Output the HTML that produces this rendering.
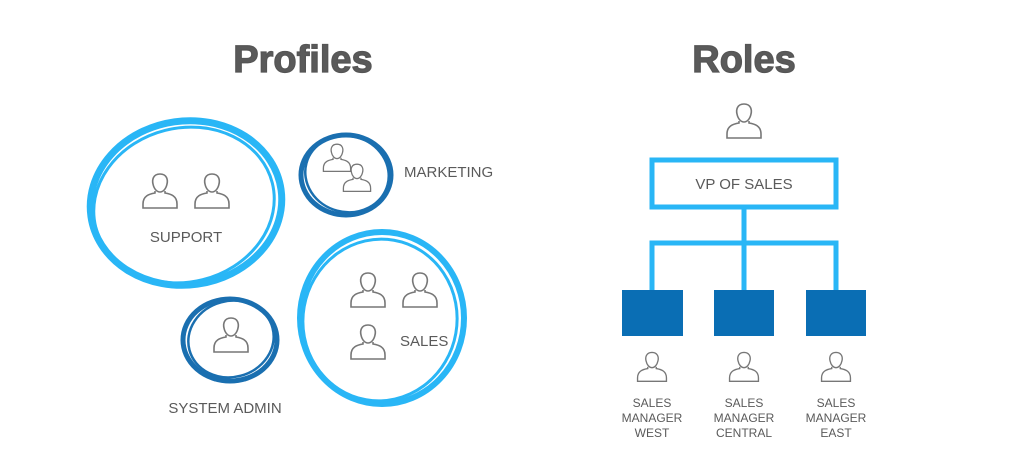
<!DOCTYPE html>
<html><head><meta charset="utf-8"><style>
html,body{margin:0;padding:0;background:#fff;}
svg{display:block;}
text{font-family:"Liberation Sans",sans-serif;fill:#5a5a5a;}
</style></head><body>
<svg width="1024" height="460" viewBox="0 0 1024 460" xmlns="http://www.w3.org/2000/svg">
<defs>
<g id="p" fill="none" stroke="#777" stroke-width="1.6">
<path d="M0,-16 C-7,-16 -8,-10 -7,-6 C-6,-1 -3,2 0,2 C3,2 6,-1 7,-6 C8,-10 7,-16 0,-16 Z"/>
<path d="M-5,1 L-5,3 C-11,4 -17,6 -17,14 L-17,18 L17,18 L17,14 C17,6 11,4 5,3 L5,1"/>
</g>
</defs>
<text x="303" y="72" font-size="38" font-weight="bold" text-anchor="middle" stroke="#555" stroke-width="1.2">Profiles</text>
<text x="744" y="72" font-size="38" font-weight="bold" text-anchor="middle" stroke="#555" stroke-width="1.2">Roles</text>

<g fill="none" stroke="#29b6f6">
<ellipse cx="186" cy="203" rx="96" ry="82" stroke-width="7" transform="rotate(-8 186 203)"/>
<ellipse cx="184" cy="205" rx="91" ry="77" stroke-width="3" transform="rotate(-14 184 205)"/>
</g>
<g fill="none" stroke="#29b6f6">
<ellipse cx="382" cy="318" rx="82" ry="86" stroke-width="6"/>
<ellipse cx="380" cy="320" rx="77" ry="81" stroke-width="3" transform="rotate(10 380 320)"/>
</g>
<g fill="none" stroke="#1a6fb0">
<ellipse cx="346" cy="175" rx="45" ry="40" stroke-width="5"/>
<ellipse cx="347" cy="174" rx="42" ry="38" stroke-width="2.5" transform="rotate(15 347 174)"/>
</g>
<g fill="none" stroke="#1a6fb0">
<ellipse cx="230" cy="340" rx="47" ry="41" stroke-width="5"/>
<ellipse cx="231" cy="339" rx="43" ry="38" stroke-width="2.5" transform="rotate(-15 231 339)"/>
</g>

<use href="#p" transform="translate(160,190)"/>
<use href="#p" transform="translate(212,190)"/>
<use href="#p" transform="translate(337,157) scale(0.8)"/>
<use href="#p" transform="translate(357,177) scale(0.8)"/>
<use href="#p" transform="translate(368,289)"/>
<use href="#p" transform="translate(420,289)"/>
<use href="#p" transform="translate(368,341)"/>
<use href="#p" transform="translate(231,334)"/>

<text x="186" y="242" font-size="15" text-anchor="middle">SUPPORT</text>
<text x="404" y="177" font-size="15">MARKETING</text>
<text x="400" y="346" font-size="15">SALES</text>
<text x="225" y="413" font-size="15" text-anchor="middle">SYSTEM ADMIN</text>

<use href="#p" transform="translate(744,120)"/>
<rect x="652" y="160" width="184" height="47" fill="none" stroke="#29b6f6" stroke-width="5"/>
<text x="744" y="189" font-size="15" text-anchor="middle">VP OF SALES</text>
<g stroke="#29b6f6" stroke-width="5" fill="none">
<line x1="744" y1="207" x2="744" y2="291"/>
<polyline points="652,291 652,243 836,243 836,291"/>
</g>
<rect x="622" y="290" width="61" height="46" fill="#0a6eb4"/>
<rect x="714" y="290" width="60" height="46" fill="#0a6eb4"/>
<rect x="806" y="290" width="60" height="46" fill="#0a6eb4"/>
<use href="#p" transform="translate(652,366) scale(0.85)"/>
<use href="#p" transform="translate(744,366) scale(0.85)"/>
<use href="#p" transform="translate(836,366) scale(0.85)"/>
<g font-size="12" text-anchor="middle">
<text x="652" y="407">SALES</text><text x="652" y="422">MANAGER</text><text x="652" y="437">WEST</text>
<text x="744" y="407">SALES</text><text x="744" y="422">MANAGER</text><text x="744" y="437">CENTRAL</text>
<text x="836" y="407">SALES</text><text x="836" y="422">MANAGER</text><text x="836" y="437">EAST</text>
</g>
</svg>
</body></html>
